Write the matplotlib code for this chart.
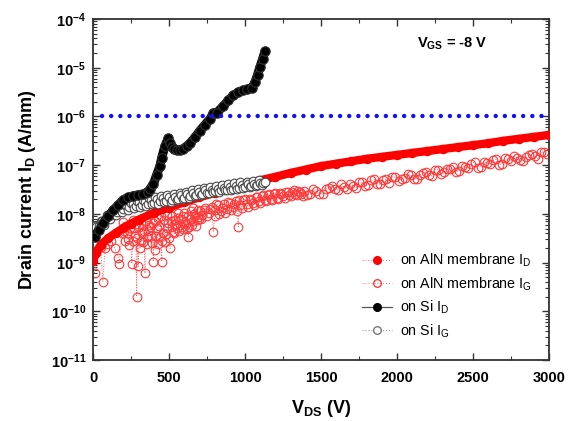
import numpy as np
import matplotlib
matplotlib.use("Agg")
import matplotlib.pyplot as plt
from matplotlib.lines import Line2D
from matplotlib.ticker import FixedLocator, LogLocator, NullFormatter, FuncFormatter, MultipleLocator

plt.rcParams['font.family'] = ['Liberation Sans', 'DejaVu Sans']
plt.rcParams['mathtext.fontset'] = 'custom'
plt.rcParams['mathtext.rm'] = 'Liberation Sans'
plt.rcParams['mathtext.bf'] = 'Liberation Sans:bold'
plt.rcParams['mathtext.it'] = 'Liberation Sans:italic'

# ---------------- data (log10 of current in A/mm) ----------------
si_id_v = [13, 40, 68, 100, 134, 166, 199, 232, 265, 298, 331, 360, 375, 398, 419,
           440, 452, 474, 495, 507, 518, 535, 551, 572, 594, 616, 638, 671, 704, 737,
           770, 792, 816, 857, 890, 923, 956, 989, 1015, 1044, 1066, 1083, 1099, 1116, 1132]
si_id_log = [-8.47, -8.33, -8.19, -8.05, -7.92, -7.82, -7.71, -7.66, -7.63, -7.61, -7.59,
             -7.55, -7.49, -7.38, -7.20, -7.02, -6.85, -6.60, -6.45, -6.55, -6.62, -6.67,
             -6.69, -6.69, -6.66, -6.61, -6.55, -6.43, -6.29, -6.17, -6.05, -5.93, -5.92,
             -5.79, -5.67, -5.57, -5.50, -5.46, -5.44, -5.42, -5.30, -5.14, -4.98, -4.82, -4.66]

si_ig_v = [0, 20, 40, 60, 80, 100, 120, 140, 160, 180, 200, 220, 240, 260, 280, 300, 320,
           340, 360, 380, 400, 420, 440, 460, 480, 500, 520, 540, 560, 580, 600, 620, 640,
           660, 680, 700, 720, 740, 760, 780, 800, 820, 840, 860, 880, 900, 920, 940, 960,
           980, 1000, 1020, 1040, 1060, 1080, 1100, 1120, 1132,
           10, 30, 50, 70, 90, 110, 130, 150, 170, 190, 210, 230, 250, 270, 290, 310, 330,
           350, 370, 390, 410, 430, 450, 470, 490, 510, 530, 550, 570, 590, 610, 630, 650,
           670, 690, 710, 730, 750, 770, 790, 810, 830, 850, 870, 890, 910, 930, 950, 970,
           990, 1010, 1030, 1050, 1070, 1090, 1110]
si_ig_log = [-8.36, -8.28, -8.25, -8.15, -8.12, -8.04, -8.02, -7.95, -7.97, -7.88, -7.90,
             -7.82, -7.86, -7.80, -7.84, -7.76, -7.82, -7.75, -7.79, -7.72, -7.77, -7.70,
             -7.74, -7.68, -7.73, -7.66, -7.71, -7.65, -7.69, -7.62, -7.67, -7.60, -7.64,
             -7.57, -7.61, -7.55, -7.59, -7.52, -7.57, -7.50, -7.54, -7.48, -7.52, -7.46,
             -7.50, -7.44, -7.48, -7.43, -7.46, -7.41, -7.44, -7.39, -7.42, -7.38, -7.40,
             -7.36, -7.37, -7.34,
             -8.25, -8.33, -8.14, -8.22, -8.02, -8.10, -7.93, -8.03, -7.86, -7.96, -7.81,
             -7.92, -7.77, -7.88, -7.73, -7.85, -7.71, -7.83, -7.68, -7.80, -7.66, -7.79,
             -7.63, -7.76, -7.61, -7.75, -7.59, -7.72, -7.57, -7.69, -7.55, -7.68, -7.51,
             -7.64, -7.49, -7.61, -7.47, -7.58, -7.44, -7.56, -7.42, -7.55, -7.40, -7.52,
             -7.38, -7.50, -7.37, -7.48, -7.35, -7.46, -7.34, -7.44, -7.32, -7.42, -7.31,
             -7.40]

aln_id_v = [0, 20, 50, 100, 150, 200, 250, 300, 400, 500, 600, 700, 800, 900, 1000, 1100,
            1200, 1300, 1400, 1500, 1600, 1700, 1800, 1900, 2000, 2100, 2200, 2300, 2400,
            2500, 2600, 2700, 2800, 2900, 3000]
aln_id_log = [-8.97, -8.80, -8.64, -8.50, -8.39, -8.29, -8.20, -8.12, -7.98, -7.87, -7.76,
              -7.66, -7.57, -7.47, -7.38, -7.31, -7.24, -7.16, -7.09, -7.02, -6.97, -6.92,
              -6.87, -6.83, -6.79, -6.75, -6.71, -6.67, -6.63, -6.59, -6.55, -6.50, -6.46,
              -6.42, -6.38]

aln_ig_v = [10, 30, 50, 64, 80, 100, 120, 145, 166, 173, 189, 199, 210, 222, 239, 255, 265,
            276, 287, 298, 309, 320, 331, 342, 353, 365, 375, 386, 397, 408, 419, 430, 441,
            452, 463, 474, 485, 495, 507, 518, 528, 540, 551, 561, 572, 584, 595, 606, 617,
            627, 638, 649, 660, 671, 682, 693,
            205, 215, 228, 245, 260, 270, 282, 292, 304, 315, 326, 336, 348, 358, 370, 380,
            392, 405, 415, 425, 435, 445, 455, 468, 480, 490, 500, 512, 522, 535, 545, 556,
            566, 578, 590, 600, 612, 622, 632, 644, 655, 665, 676, 688, 698,
            705, 720, 740, 760, 780, 792, 805, 820, 840, 860, 880, 900, 920, 940, 956, 970,
            990, 1010, 1030, 1050, 1070, 1090, 1110, 1130, 1150, 1170, 1190, 1210, 1230,
            1250, 1270, 1290, 1310, 1330, 1350, 1370,
            710, 730, 750, 770, 800, 812, 830, 850, 870, 890, 910, 930, 948, 962, 980, 1000,
            1020, 1040, 1060, 1080, 1100, 1120, 1140, 1160, 1180, 1200, 1220, 1240, 1260,
            1280, 1300, 1320, 1340, 1360, 1380,
            1390, 1430, 1470, 1510, 1550, 1590, 1630, 1670, 1710, 1750, 1790, 1830, 1870,
            1910, 1950, 1990, 2030, 2070, 2110, 2150, 2190, 2230, 2270, 2310, 2350, 2390,
            2430, 2470, 2510, 2550, 2590, 2630, 2670, 2710, 2750, 2790, 2830, 2870, 2910,
            2950, 2990,
            1410, 1450, 1490, 1530, 1570, 1610, 1650, 1690, 1730, 1770, 1810, 1850, 1890,
            1930, 1970, 2010, 2050, 2090, 2130, 2170, 2210, 2250, 2290, 2330, 2370, 2410,
            2450, 2490, 2530, 2570, 2610, 2650, 2690, 2730, 2770, 2810, 2850, 2890, 2930,
            2970]
aln_ig_log = [-9.22, -8.72, -8.68, -9.39, -8.70, -8.62, -8.55, -8.71, -8.91, -9.02, -8.40,
              -8.16, -8.55, -8.40, -8.64, -9.02, -8.13, -8.45, -9.70, -9.08, -8.71, -8.40,
              -8.58, -9.22, -8.47, -8.35, -8.26, -8.60, -8.98, -8.74, -8.30, -8.09, -8.47,
              -8.98, -8.40, -8.57, -8.30, -8.19, -8.71, -8.28, -8.37, -8.13, -8.30, -8.09,
              -8.22, -8.26, -8.05, -8.16, -8.30, -8.47, -8.10, -8.23, -7.89, -8.05, -8.13,
              -8.06,
              -8.35, -8.25, -8.52, -8.30, -8.55, -8.30, -8.20, -8.50, -8.28, -8.55, -8.22,
              -8.35, -8.15, -8.62, -8.22, -8.45, -8.18, -8.15, -8.45, -8.62, -8.25, -8.05,
              -8.55, -8.12, -8.42, -8.02, -8.50, -8.15, -8.05, -8.40, -8.20, -7.98, -8.35,
              -8.10, -8.32, -7.98, -8.20, -8.05, -8.28, -7.95, -8.15, -8.00, -8.25, -7.92,
              -8.10,
              -7.95, -8.02, -7.88, -7.98, -7.85, -8.37, -7.93, -7.82, -7.95, -7.80, -7.90,
              -7.78, -7.86, -7.74, -8.26, -7.82, -7.72, -7.80, -7.70, -7.77, -7.66, -7.74,
              -7.64, -7.71, -7.62, -7.69, -7.60, -7.67, -7.58, -7.64, -7.56, -7.62, -7.55,
              -7.60, -7.53, -7.59,
              -8.10, -7.92, -8.05, -7.90, -8.05, -7.80, -8.00, -7.88, -7.98, -7.75, -7.92,
              -7.80, -7.95, -7.72, -7.88, -7.70, -7.85, -7.72, -7.82, -7.66, -7.78, -7.62,
              -7.74, -7.60, -7.72, -7.58, -7.69, -7.60, -7.68, -7.55, -7.64, -7.52, -7.62,
              -7.56, -7.63,
              -7.54, -7.60, -7.53, -7.59, -7.47, -7.49, -7.39, -7.49, -7.42, -7.35, -7.43,
              -7.31, -7.38, -7.31, -7.37, -7.25, -7.28, -7.19, -7.28, -7.20, -7.14, -7.22,
              -7.09, -7.15, -7.08, -7.14, -7.02, -7.05, -6.94, -7.03, -6.96, -6.90, -6.99,
              -6.86, -6.92, -6.85, -6.91, -6.80, -6.82, -6.72, -6.78,
              -7.61, -7.49, -7.59, -7.49, -7.43, -7.51, -7.45, -7.39, -7.47, -7.35, -7.40,
              -7.29, -7.39, -7.29, -7.24, -7.32, -7.26, -7.20, -7.28, -7.16, -7.20, -7.09,
              -7.18, -7.08, -7.03, -7.11, -7.04, -6.97, -7.06, -6.94, -6.98, -6.88, -6.98,
              -6.88, -6.82, -6.90, -6.84, -6.78, -6.87, -6.74]

limit_v = [60, 3000]
limit_current = [1e-6, 1e-6]

x_ticks = [0, 500, 1000, 1500, 2000, 2500, 3000]
y_decades = [-11, -10, -9, -8, -7, -6, -5, -4]


def sorted_series(v, logi):
    v = np.asarray(v, dtype=float)
    logi = np.asarray(logi, dtype=float)
    order = np.argsort(v, kind='stable')
    return v[order], np.power(10.0, logi[order])


# ---------------- figure ----------------
fig = plt.figure(figsize=(5.68, 4.21), dpi=100)
ax = fig.add_axes([93/568, 1-360/421, 456/568, 341/421])

red = '#ff0000'
xv, yv = sorted_series(aln_ig_v, aln_ig_log)
ax.plot(xv, yv, linestyle=':', color='#ff6060', lw=0.7,
        marker='o', ms=6.2, mfc='none', mec='#ff3a3a', mew=0.8, zorder=2)
xv, yv = sorted_series(aln_id_v, aln_id_log)
ax.plot(xv, yv, linestyle='-', color=red, lw=6,
        solid_capstyle='round', zorder=3)
ax.plot(xv, yv, linestyle='none', marker='o', ms=5.8, mfc=red, mec=red, zorder=3)
xv, yv = sorted_series(si_ig_v, si_ig_log)
ax.plot(xv, yv, linestyle=':', color='#777777', lw=0.7,
        marker='o', ms=6.2, mfc='white', mec='#4a4a4a', mew=0.8, zorder=4)
xv, yv = sorted_series(si_id_v, si_id_log)
ax.plot(xv, yv, linestyle='-', color='black', lw=6.5,
        solid_capstyle='round', zorder=5)
ax.plot(xv, yv, linestyle='none', marker='o', ms=6.8,
        mfc='black', mec='#333333', mew=0.8, zorder=5)
ax.plot(limit_v, limit_current, color='#1010ff', lw=3.2, linestyle=(0, (0.01, 2.05)),
        dash_capstyle='round', zorder=6)

ax.set_yscale('log')
ax.set_xlim(0, 3000)
ax.set_ylim(1e-11, 1e-4)

ax.xaxis.set_major_locator(FixedLocator(x_ticks))
ax.xaxis.set_minor_locator(MultipleLocator(250))
ax.yaxis.set_major_locator(FixedLocator([10.0**d for d in y_decades]))
ax.yaxis.set_minor_locator(LogLocator(base=10, subs=np.arange(2, 10), numticks=20))
ax.yaxis.set_minor_formatter(NullFormatter())
ax.yaxis.set_major_formatter(FuncFormatter(lambda v, p: r"$\mathbf{10^{%d}}$" % int(round(np.log10(v)))))
ax.xaxis.set_major_formatter(FuncFormatter(lambda v, p: "%d" % v))

ax.tick_params(which='both', direction='in', top=True, right=True, color='#333333')
ax.tick_params(which='major', length=5, width=1.0, labelsize=10.5)
ax.tick_params(axis='x', which='major', pad=8)
ax.tick_params(axis='y', which='major', pad=5)
ax.tick_params(which='minor', length=2.8, width=0.8)
for lab in ax.get_xticklabels() + ax.get_yticklabels():
    lab.set_fontweight('bold')
for s in ax.spines.values():
    s.set_linewidth(1.3)
    s.set_color('#333333')

ax.set_xlabel(r"V$_\mathbf{DS}$ (V)", fontsize=13, fontweight='bold', labelpad=9)
ax.set_ylabel(r"Drain current I$_\mathbf{D}$ (A/mm)", fontsize=13, fontweight='bold', labelpad=9)

ax.text(0.787, 0.927, r"V$_\mathbf{GS}$ = -8 V", transform=ax.transAxes, fontsize=10.5,
        fontweight='bold', ha='center', va='center')

handles = [
    Line2D([], [], color='#ff8080', ls=':', lw=0.8, marker='o', ms=5.5, mfc=red, mec=red),
    Line2D([], [], color='#ff8080', ls=':', lw=0.8, marker='o', ms=5.5, mfc='none', mec='#ff3a3a'),
    Line2D([], [], color='#555555', ls='-', lw=0.9, marker='o', ms=5.5, mfc='black', mec='black'),
    Line2D([], [], color='#999999', ls=':', lw=0.8, marker='o', ms=5.5, mfc='white', mec='#777777'),
]
labels = [r"on AlN membrane I$_\mathrm{D}$", r"on AlN membrane I$_\mathrm{G}$",
          r"on Si I$_\mathrm{D}$", r"on Si I$_\mathrm{G}$"]
leg = fig.legend(handles, labels, loc='upper left', bbox_to_anchor=(362/568, 1-252/421),
                 frameon=False, fontsize=10.3, handlelength=2.1, handletextpad=0.55,
                 labelspacing=0.42, borderpad=0, borderaxespad=0)

fig.savefig('out.png', dpi=100)
